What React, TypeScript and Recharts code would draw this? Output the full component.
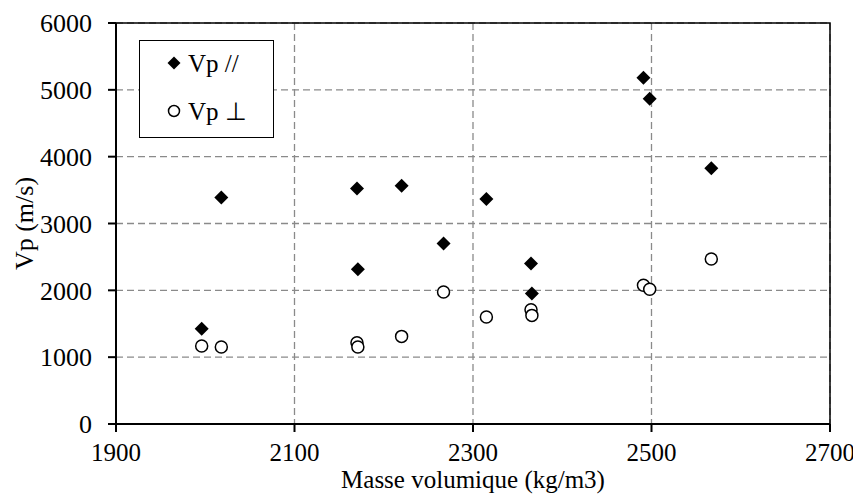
import { ScatterChart, Scatter, XAxis, YAxis, CartesianGrid, ReferenceArea, Legend } from 'recharts';

// density (kg/m3) of each sample, with the two P-wave velocities measured on it
const density = [1996, 2018, 2170, 2171, 2220, 2267, 2315, 2365, 2366, 2491, 2498, 2567];
const vpParallel = [1426, 3389, 3524, 2315, 3563, 2700, 3368, 2400, 1951, 5181, 4866, 3828];
const vpPerp = [1166, 1151, 1216, 1151, 1311, 1975, 1600, 1711, 1625, 2075, 2015, 2469];

const xTicks = [1900, 2100, 2300, 2500, 2700];
const yTicks = [0, 1000, 2000, 3000, 4000, 5000, 6000];

const parallelData = density.map((x, i) => ({ x, y: vpParallel[i] }));
const perpData = density.map((x, i) => ({ x, y: vpPerp[i] }));

const FONT = '"Liberation Serif", "Times New Roman", serif';

function Diamond({ cx, cy, r = 7 }: { cx: number; cy: number; r?: number }) {
  return <polygon points={`${cx},${cy - r} ${cx + r},${cy} ${cx},${cy + r} ${cx - r},${cy}`} fill="#000" />;
}

function Ring({ cx, cy, r = 6 }: { cx: number; cy: number; r?: number }) {
  return <circle cx={cx} cy={cy} r={r} fill="#fff" stroke="#000" strokeWidth={1.5} />;
}

function YTitle(props: any) {
  const { viewBox } = props;
  const x = viewBox.x + 8;
  const y = viewBox.y + viewBox.height / 2;
  return (
    <text x={x} y={y} transform={`rotate(-90 ${x} ${y})`} textAnchor="middle" dominantBaseline="central" fontSize={26} fill="#000">
      Vp (m/s)
    </text>
  );
}

function XTitle(props: any) {
  const { viewBox } = props;
  return (
    <text x={viewBox.x + viewBox.width / 2} y={viewBox.y + viewBox.height - 6} textAnchor="middle" fontSize={25} fill="#000">
      Masse volumique (kg/m3)
    </text>
  );
}

function LegendBox() {
  return (
    <div style={{ width: 135, height: 98, border: '1.5px solid #000', boxSizing: 'border-box', background: '#fff' }}>
      <svg width={132} height={95} style={{ display: 'block' }}>
        <Diamond cx={34} cy={22} r={6.5} />
        <text x={48} y={22} dominantBaseline="central" fontSize={25} fontFamily={FONT}>Vp //</text>
        <Ring cx={34} cy={70} r={5.5} />
        <text x={48} y={70} dominantBaseline="central" fontSize={25} fontFamily={FONT}>Vp ⊥</text>
      </svg>
    </div>
  );
}

export default function App() {
  return (
    <ScatterChart
      width={853}
      height={486}
      margin={{ top: 15, right: 31, bottom: 0, left: 8 }}
      style={{ fontFamily: FONT }}
    >
      <CartesianGrid stroke="#8a8a8a" strokeWidth={1.3} strokeDasharray="7 4" />
      <ReferenceArea x1={1900} x2={2700} y1={0} y2={6000} fill="none" stroke="#000" strokeWidth={1.5} />
      <XAxis
        type="number"
        dataKey="x"
        domain={[1900, 2700]}
        ticks={xTicks}
        height={70}
        tickSize={8}
        tickMargin={11}
        axisLine={{ stroke: '#000', strokeWidth: 2 }}
        tickLine={{ stroke: '#000', strokeWidth: 2 }}
        tick={{ fill: '#000', fontSize: 25 }}
        label={<XTitle />}
      />
      <YAxis
        type="number"
        dataKey="y"
        domain={[0, 6000]}
        ticks={yTicks}
        width={100}
        tickSize={8}
        tickMargin={16}
        axisLine={{ stroke: '#000', strokeWidth: 2 }}
        tickLine={{ stroke: '#000', strokeWidth: 2 }}
        tick={{ fill: '#000', fontSize: 26 }}
        label={<YTitle />}
      />
      <Legend
        layout="horizontal"
        verticalAlign="middle"
        content={() => <LegendBox />}
        wrapperStyle={{ position: 'absolute', left: 131, top: 32, width: 'auto', height: 'auto' }}
      />
      <Scatter name="Vp //" data={parallelData} isAnimationActive={false} shape={(p: any) => <Diamond cx={p.cx} cy={p.cy} />} />
      <Scatter name="Vp ⊥" data={perpData} isAnimationActive={false} shape={(p: any) => <Ring cx={p.cx} cy={p.cy} />} />
    </ScatterChart>
  );
}
